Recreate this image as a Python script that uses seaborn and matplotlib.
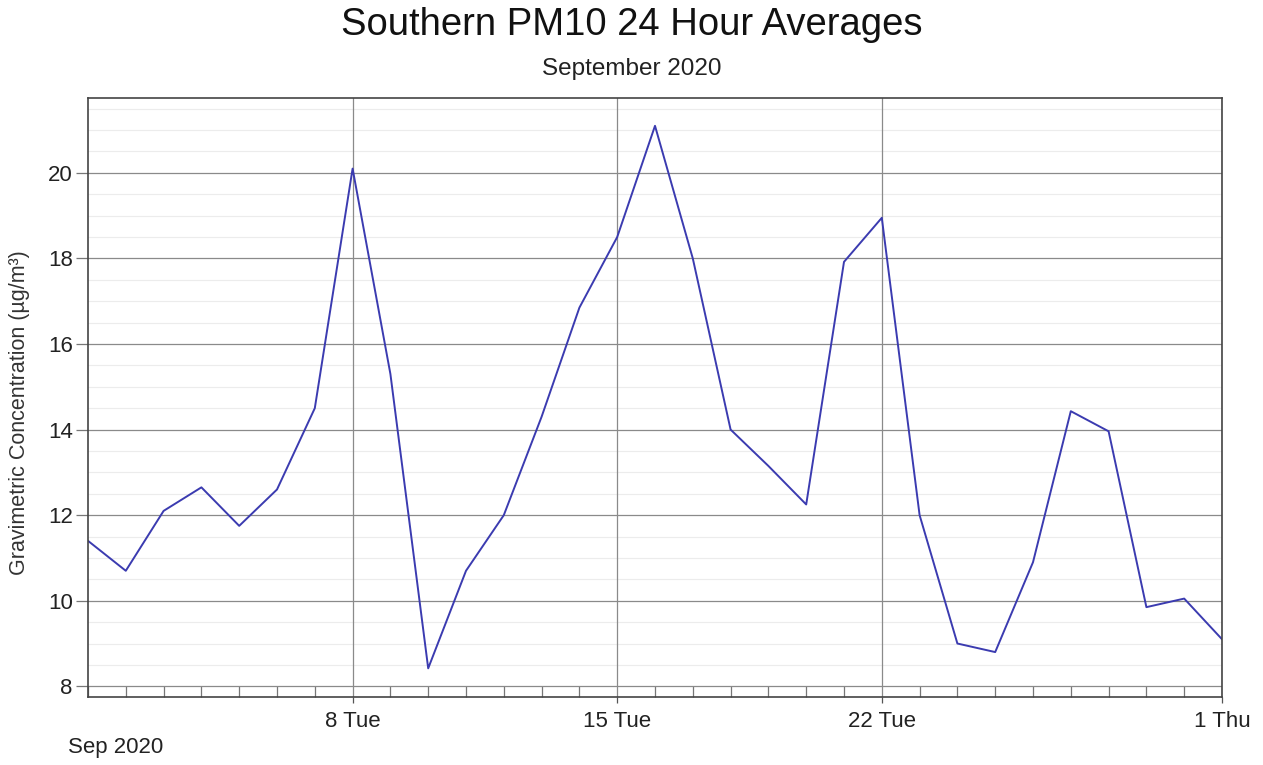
import matplotlib
matplotlib.use("Agg")
import matplotlib.pyplot as plt
import matplotlib.dates as mdates
from matplotlib.ticker import MultipleLocator
import seaborn as sns
import pandas as pd

# daily 24h averages, Sep 1 .. Oct 1 2020
dates = pd.date_range("2020-09-01", "2020-10-01", freq="D")
pm10 = [11.4, 10.7, 12.1, 12.65, 11.75, 12.6, 14.5, 20.1, 15.3, 8.42,
        10.7, 12.0, 14.3, 16.85, 18.5, 21.1, 18.0, 14.0, 13.15, 12.25,
        17.92, 18.95, 12.0, 9.0, 8.8, 10.9, 14.43, 13.96, 9.85, 10.05,
        9.1]
major_dates = pd.to_datetime(["2020-09-08", "2020-09-15", "2020-09-22", "2020-10-01"])
major_labels = ["8 Tue", "15 Tue", "22 Tue", "1 Thu"]

df = pd.DataFrame({"date": dates, "pm10": pm10})

sns.set_style("white")
plt.rcParams["font.family"] = ["Liberation Sans", "DejaVu Sans"]

fig = plt.figure(figsize=(12.63, 7.65), dpi=100)
ax = fig.add_axes([88 / 1263, 1 - 697 / 765, (1222 - 88) / 1263, (697 - 98) / 765])

sns.lineplot(data=df, x="date", y="pm10", ax=ax, color="#3b3bb0", linewidth=1.4, zorder=3)

ax.set_xlim(dates[0], dates[-1])
ax.set_ylim(7.75, 21.75)

# y grid: major every 2, minor every 0.5
ax.yaxis.set_major_locator(MultipleLocator(2))
ax.yaxis.set_minor_locator(MultipleLocator(0.5))
ax.grid(which="minor", axis="y", color="#ececec", linewidth=0.8, linestyle="-")
ax.grid(which="major", axis="y", color="#8a8a8a", linewidth=0.9, linestyle="-")
ax.set_axisbelow(True)

# vertical lines on the labelled days, above the light grid
for d in major_dates:
    ax.axvline(d, color="#8a8a8a", linewidth=0.9, zorder=1)

# x ticks: named days major, every day minor
ax.set_xticks(major_dates)
ax.set_xticklabels(major_labels)
ax.xaxis.set_minor_locator(mdates.DayLocator())

ax.tick_params(axis="x", which="major", bottom=True, direction="out", length=4, width=0.9,
               color="#555555", labelsize=16, pad=6, labelcolor="#222222")
ax.tick_params(axis="x", which="minor", bottom=True, direction="in", length=8, width=0.9,
               color="#777777")
ax.tick_params(axis="y", which="major", left=True, direction="out", length=9, width=0.9,
               color="#777777", labelsize=16, pad=2, labelcolor="#222222")
ax.tick_params(axis="y", which="minor", left=False, length=0)

for s in ax.spines.values():
    s.set_color("#444444")
    s.set_linewidth(1.2)
    s.set_zorder(4)

ax.set_xlabel("")
ax.set_ylabel("Gravimetric Concentration (µg/m³)", fontsize=15.5, color="#333333")
ax.yaxis.set_label_coords(-0.051, 0.475)

fig.text(0.5, 1 - 25 / 765, "Southern PM10 24 Hour Averages", ha="center", va="center",
         fontsize=27.5, color="#111111")
fig.text(0.5, 1 - 69 / 765, "September 2020", ha="center", va="center",
         fontsize=17.5, color="#222222")
fig.text(68 / 1263, 1 - 748 / 765, "Sep 2020", ha="left", va="center",
         fontsize=16, color="#222222")

fig.savefig("out.png", dpi=100)
